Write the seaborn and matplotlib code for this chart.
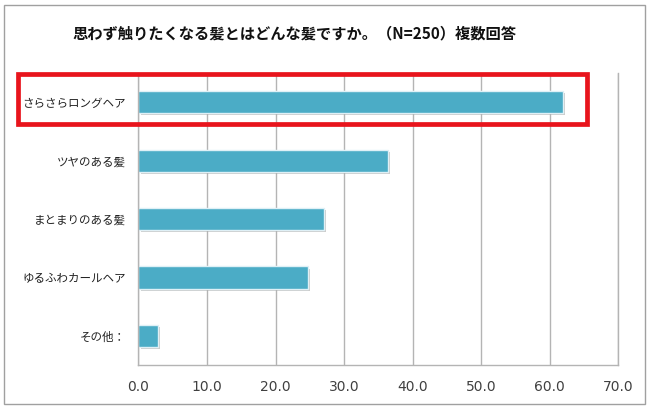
import numpy as np
import pandas as pd
import matplotlib.pyplot as plt
import matplotlib.patches as mpatches
import matplotlib.patheffects as pe
import seaborn as sb

# data
labels = ['さらさらロングヘア', 'ツヤのある髪', 'まとまりのある髪', 'ゆるふわカールヘア', 'その他：']
values = [62.0, 36.4, 27.1, 24.8, 2.8]
xticks = [0, 10, 20, 30, 40, 50, 60, 70]
title = '思わず触りたくなる髪とはどんな髪ですか。（N=250）複数回答'

df = pd.DataFrame({'label': labels, 'value': values})

sb.set_style('white')
plt.rcParams['font.family'] = ['Noto Sans CJK JP', 'DejaVu Sans']

fig = plt.figure(figsize=(6.5, 4.08), dpi=100)
ax = fig.add_axes([0.213, 0.105, 0.738, 0.716])

sb.barplot(data=df, x='value', y='label', orient='h', color='#4bacc6',
           width=0.38, edgecolor='#dff0f6', linewidth=1, saturation=1, ax=ax)
for bar in ax.patches:
    bar.set_path_effects([pe.SimplePatchShadow(offset=(1.5, -1.5), shadow_rgbFace='#9a9a9a', alpha=0.5),
                          pe.Normal()])

ax.set_xlim(0, 70)
ax.set_xticks(xticks)
ax.set_xticklabels([f'{t:.1f}' for t in xticks], fontsize=10, color='#404040',
                   family='DejaVu Sans')
ax.tick_params(axis='x', length=0, pad=11)
ax.tick_params(axis='y', length=0, pad=9, labelsize=8.3, labelcolor='#222222')
ax.set_xlabel('')
ax.set_ylabel('')
ax.xaxis.grid(True, color='#b4b4b4', linewidth=1)
ax.set_axisbelow(True)
ax.spines['top'].set_visible(False)
for s in ['left', 'bottom', 'right']:
    ax.spines[s].set_color('#b4b4b4')
    ax.spines[s].set_linewidth(1)

fig.text(0.453, 0.918, title, ha='center', va='center', fontsize=11,
         fontweight='bold', color='#111111')

# red highlight box around first category
fig.patches.append(mpatches.Rectangle((0.027, 0.695), 0.876, 0.1225, fill=False,
                                      edgecolor='#e8141c', linewidth=3.4,
                                      transform=fig.transFigure, figure=fig))
# outer frame
fig.patches.append(mpatches.Rectangle((0.006, 0.0098), 0.986, 0.978, fill=False,
                                      edgecolor='#a0a0a0', linewidth=1,
                                      transform=fig.transFigure, figure=fig))

fig.savefig('out.png', dpi=100)
